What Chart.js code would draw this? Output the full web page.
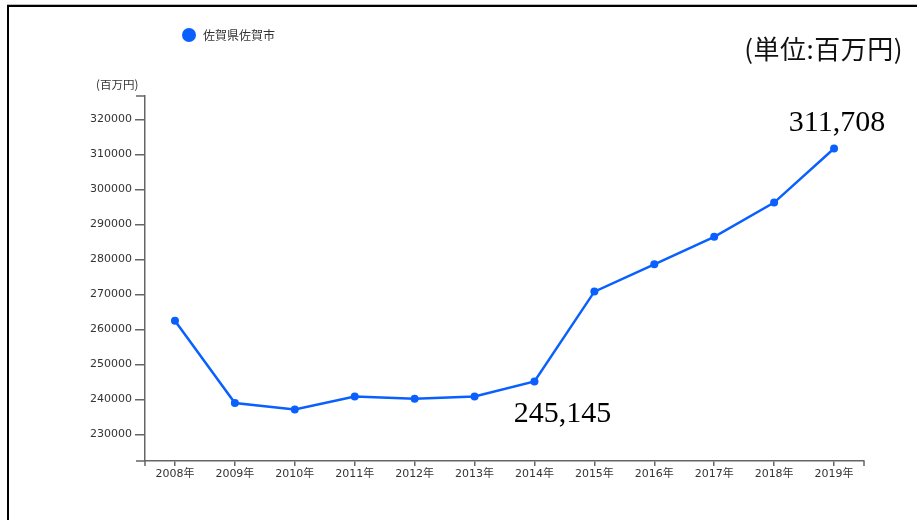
<!DOCTYPE html>
<html>
<head>
<meta charset="utf-8">
<script src="https://cdn.jsdelivr.net/npm/chart.js@4"></script>
<style>
  body { margin: 0; background: #fff; }
  #wrap { position: relative; width: 917px; height: 520px; overflow: hidden; }
  #frame { position: absolute; left: 7px; top: 5px; right: -4px; bottom: -4px;
           border-top: 2px solid #000; border-left: 2px solid #000; box-shadow: 0 -1px 0 #bbb; }
  canvas { position: absolute; left: 0; top: 0; }
</style>
</head>
<body>
<div id="wrap">
  <div id="frame"></div>
  <canvas id="lineChart" width="917" height="520"></canvas>
</div>
<script>
const years = ['2008年', '2009年', '2010年', '2011年', '2012年', '2013年',
               '2014年', '2015年', '2016年', '2017年', '2018年', '2019年'];
const sagaValues = [262500, 238950, 237150, 240800, 240200, 240850,
                    245145, 270800, 278600, 286450, 296250, 311708];
const seriesName = '佐賀県佐賀市';
const yTicks = [230000, 240000, 250000, 260000, 270000, 280000, 290000, 300000, 310000, 320000];
const labelledIdx = [6, 11];
const unitText = '(単位:百万円)';
const axisUnit = '(百万円)';

const BLUE = '#0a60ff';
const AXIS = '#666';

// extra drawing: legend, unit texts, outer ticks, value labels
const extras = {
    id: 'extras',
    afterDraw(chart) {
        const ctx = chart.ctx;
        const area = chart.chartArea;
        const xs = chart.scales.x, ys = chart.scales.y;
        ctx.save();

        // outer ticks (d3 style)
        ctx.strokeStyle = AXIS;
        ctx.lineWidth = 1.5;
        ctx.beginPath();
        ctx.moveTo(area.left - 9, area.top); ctx.lineTo(area.left, area.top);
        ctx.moveTo(area.left - 9, area.bottom); ctx.lineTo(area.left, area.bottom);
        ctx.moveTo(area.left, area.bottom); ctx.lineTo(area.left, area.bottom + 5);
        ctx.moveTo(area.right, area.bottom); ctx.lineTo(area.right, area.bottom + 5);
        ctx.stroke();

        // legend
        ctx.fillStyle = BLUE;
        ctx.beginPath();
        ctx.arc(189, 35, 7, 0, Math.PI * 2);
        ctx.fill();
        ctx.fillStyle = '#333';
        ctx.font = '12px "Noto Sans CJK JP"';
        ctx.textBaseline = 'middle';
        ctx.textAlign = 'left';
        ctx.fillText(chart.data.datasets[0].label, 203, 35);

        // y unit
        ctx.font = '11.5px "Noto Sans CJK JP"';
        ctx.fillText(axisUnit, 96, 85);

        // unit at top right
        ctx.fillStyle = '#111';
        ctx.font = '26px "Noto Sans CJK JP"';
        ctx.letterSpacing = '0.5px';
        ctx.textAlign = 'right';
        ctx.fillText(unitText, 903, 49);
        ctx.letterSpacing = '0px';

        // value labels
        ctx.fillStyle = '#000';
        ctx.font = '30px "Liberation Serif"';
        ctx.textAlign = 'center';
        ctx.textBaseline = 'alphabetic';
        const offsets = { 6: [28, 41], 11: [3, -17] };
        labelledIdx.forEach(i => {
            const v = sagaValues[i];
            const px = xs.getPixelForValue(i);
            const py = ys.getPixelForValue(v);
            const off = offsets[i];
            ctx.fillText(v.toLocaleString('en-US'), px + off[0], py + off[1]);
        });
        ctx.restore();
    }
};

const ctx = document.getElementById('lineChart').getContext('2d');
new Chart(ctx, {
    type: 'line',
    data: {
        labels: years,
        datasets: [{
            label: seriesName,
            data: sagaValues,
            borderColor: BLUE,
            backgroundColor: BLUE,
            borderWidth: 2.5,
            pointRadius: 4,
            pointBackgroundColor: BLUE,
            pointBorderWidth: 0,
            tension: 0
        }]
    },
    options: {
        responsive: false,
        animation: false,
        layout: { padding: { left: 0, top: 96, right: 53, bottom: 33 } },
        plugins: {
            legend: { display: false },
            tooltip: { enabled: false }
        },
        scales: {
            x: {
                type: 'category',
                offset: true,
                grid: { offset: false, drawOnChartArea: false, drawTicks: true, tickLength: 5, color: AXIS, lineWidth: 1.5 },
                border: { display: true, color: AXIS, width: 1.5 },
                ticks: { color: '#333', padding: 2, maxRotation: 0,
                         font: { family: '"DejaVu Sans", "Noto Sans CJK JP"', size: 11 } },
                afterFit(scale) { scale.height = 26; scale.paddingLeft = 0; scale.paddingRight = 0; }
            },
            y: {
                min: 222400,
                max: 326700,
                bounds: 'data',
                afterBuildTicks(scale) { scale.ticks = yTicks.map(v => ({ value: v })); },
                grid: { drawOnChartArea: false, drawTicks: true, tickLength: 10, color: AXIS, lineWidth: 1.5 },
                border: { display: true, color: AXIS, width: 1.5 },
                ticks: { color: '#333', padding: 3,
                         font: { family: '"DejaVu Sans"', size: 11 },
                         callback: v => String(v) },
                afterFit(scale) { scale.width = 145; scale.paddingTop = 0; scale.paddingBottom = 0; }
            }
        }
    },
    plugins: [extras]
});
</script>
</body>
</html>
